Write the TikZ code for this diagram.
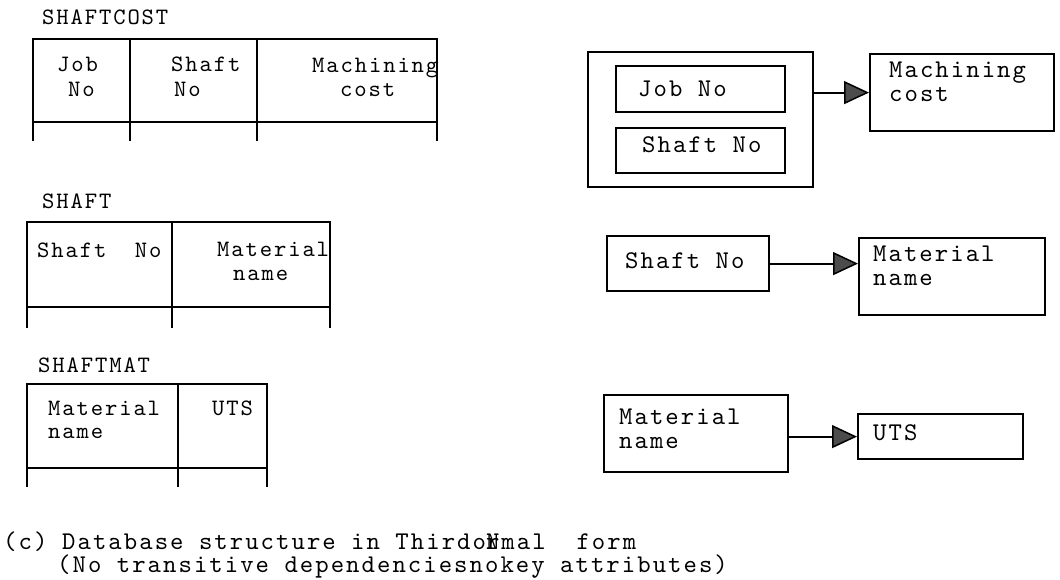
\documentclass[tikz,border=0pt]{standalone}
\usepackage{fontspec}
\usetikzlibrary{arrows.meta}
\newfontfamily\tw{lmmono10-regular.otf}[LetterSpace=8]
\tikzset{
  tl/.style={font=\tw\fontsize{23.5}{26}\selectfont, anchor=base west, inner sep=0pt},
  tr/.style={font=\tw\fontsize{25.5}{28}\selectfont, anchor=base west, inner sep=0pt},
  tr2/.style={font=\tw\fontsize{25.5}{#1}\selectfont, anchor=north west, inner sep=0pt, align=left},
  tc/.style={font=\tw\fontsize{25.5}{28}\selectfont, anchor=base west, inner sep=0pt},
  tab/.style={line width=2.2pt, line cap=rect},
  rbox/.style={draw, line width=2.2pt, anchor=north west, inner sep=0pt, minimum width=#1},
  arr/.style={line width=2pt, -{Triangle[length=25pt, width=23pt, fill=black!70, line width=1.5pt]}}
}
\begin{document}
\begin{tikzpicture}[x=1pt, y=-1pt]
\useasboundingbox (0,0) rectangle (1060,580);

% ---------- SHAFTCOST table ----------
\node[tl] (lab1) at (42,25) {SHAFTCOST};
\draw[tab] (33,39) -- (437,39);
\draw[tab] (33,122) -- (437,122);
\foreach \x in {33,130,257,437} \draw[tab] (\x,39) -- (\x,140);
\node[tl] (t1a) at (57,72) {Job};
\node[tl] (t1b) at (68,97) {No};
\node[tl] (t1c) at (171,72) {Shaft};
\node[tl] (t1d) at (174,97) {No};
\node[tl] (t1e) at (312,73) {Machining};
\node[tl] (t1f) at (340,97) {cost};

% ---------- SHAFT table ----------
\node[tl] (lab2) at (42,208) {SHAFT};
\draw[tab] (27,222) -- (330,222);
\draw[tab] (27,307) -- (330,307);
\foreach \x in {27,172,330} \draw[tab] (\x,222) -- (\x,327);
\node[tl] (t2a) at (37,257) {Shaft\ \ No};
\node[tl] (t2b) at (217,256) {Material};
\node[tl] (t2c) at (233,280) {name};

% ---------- SHAFTMAT table ----------
\node[tl] (lab3) at (38,372) {SHAFTMAT};
\draw[tab] (27,384) -- (267,384);
\draw[tab] (27,468) -- (267,468);
\foreach \x in {27,178,267} \draw[tab] (\x,384) -- (\x,486);
\node[tl] (t3a) at (48,415) {Material};
\node[tl] (t3b) at (48,438) {name};
\node[tl] (t3c) at (212,415) {UTS};

% ---------- right: dependency diagrams ----------
\node[rbox=225pt, minimum height=135pt] (outer) at (587,51) {};
\node[rbox=169pt, minimum height=46pt] (jb) at (615,65) {};
\node[tr] (jbt) at (638,97) {Job No};
\node[rbox=169pt, minimum height=45pt] (sb) at (615,127) {};
\node[tr] (sbt) at (642,153) {Shaft No};
\node[rbox=184pt, minimum height=77pt] (mc) at (869,53) {};
\node[tr2=24pt] (mct) at (889,62) {Machining\\cost};
\draw[arr] (outer.east |- mc.west) -- (mc.west);

\node[rbox=162pt, minimum height=55pt] (sn) at (606,235) {};
\node[tr] (snt) at (625,268) {Shaft No};
\node[rbox=186pt, minimum height=77pt] (mn) at (858,237) {};
\node[tr2=24pt] (mnt) at (873,246) {Material\\name};
\draw[arr] (sn.east) -- (sn.east -| mn.west);

\node[rbox=184pt, minimum height=77pt] (mb) at (603,394) {};
\node[tr2=24pt] (mbt) at (619,409) {Material\\name};
\node[rbox=165pt, minimum height=45pt] (uts) at (857,413) {};
\node[tr] (utst) at (873,440) {UTS};
\draw[arr] (mb.east |- uts.west) -- (uts.west);

% ---------- caption ----------
\node[tc] (capc) at (3,549) {(c)};
\node[tc] (cap1) at (62,549) {Database structure in Thirdo\rlap{r}Nmal\ \ form};
\node[tc] (cap2) at (57,572) {(No transitive dependenciesnokey attributes)};
\end{tikzpicture}
\end{document}
